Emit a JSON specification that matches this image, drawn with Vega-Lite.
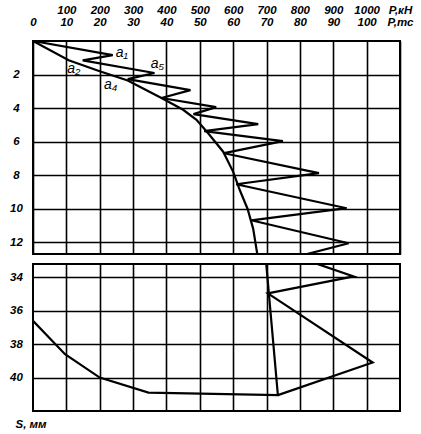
{
  "$schema": "https://vega.github.io/schema/vega-lite/v6.json",
  "background": "white",
  "padding": {"left": 8, "top": 3, "right": 5, "bottom": 3},
  "spacing": 10,
  "bounds": "flush",
  "config": {
    "view": {"stroke": "black", "strokeWidth": 2},
    "axis": {
      "labelFont": "Liberation Sans",
      "labelFontSize": 11.5,
      "labelFontWeight": "bold",
      "labelFontStyle": "italic",
      "labelColor": "black",
      "ticks": false,
      "tickSize": 0,
      "domain": false,
      "gridColor": "black",
      "gridWidth": 1.6,
      "gridOpacity": 1,
      "labelFlush": false,
      "labelOverlap": false,
      "labelBound": false
    }
  },
  "datasets": {
    "lines": [
      {"panel": "top", "series": "zig", "i": 0, "P": 0, "S": 0},
      {"panel": "top", "series": "zig", "i": 1, "P": 23.9, "S": 0.84},
      {"panel": "top", "series": "zig", "i": 2, "P": 14.9, "S": 1.16},
      {"panel": "top", "series": "zig", "i": 3, "P": 36.4, "S": 1.91},
      {"panel": "top", "series": "zig", "i": 4, "P": 28.4, "S": 2.27},
      {"panel": "top", "series": "zig", "i": 5, "P": 47.2, "S": 2.93},
      {"panel": "top", "series": "zig", "i": 6, "P": 38.5, "S": 3.4},
      {"panel": "top", "series": "zig", "i": 7, "P": 54.9, "S": 3.94},
      {"panel": "top", "series": "zig", "i": 8, "P": 48.1, "S": 4.36},
      {"panel": "top", "series": "zig", "i": 9, "P": 67.5, "S": 4.96},
      {"panel": "top", "series": "zig", "i": 10, "P": 51.3, "S": 5.37},
      {"panel": "top", "series": "zig", "i": 11, "P": 74.9, "S": 5.97},
      {"panel": "top", "series": "zig", "i": 12, "P": 57.3, "S": 6.69},
      {"panel": "top", "series": "zig", "i": 13, "P": 85.7, "S": 7.88},
      {"panel": "top", "series": "zig", "i": 14, "P": 60.9, "S": 8.54},
      {"panel": "top", "series": "zig", "i": 15, "P": 94.0, "S": 9.97},
      {"panel": "top", "series": "zig", "i": 16, "P": 65.4, "S": 10.69},
      {"panel": "top", "series": "zig", "i": 17, "P": 94.6, "S": 12.06},
      {"panel": "top", "series": "zig", "i": 18, "P": 76.4, "S": 13.0},
      {"panel": "top", "series": "env", "i": 0, "P": 0, "S": 0},
      {"panel": "top", "series": "env", "i": 1, "P": 10.7, "S": 1.15},
      {"panel": "top", "series": "env", "i": 2, "P": 20, "S": 1.8},
      {"panel": "top", "series": "env", "i": 3, "P": 28.4, "S": 2.35},
      {"panel": "top", "series": "env", "i": 4, "P": 38.5, "S": 3.4},
      {"panel": "top", "series": "env", "i": 5, "P": 45, "S": 4.1},
      {"panel": "top", "series": "env", "i": 6, "P": 49, "S": 4.7},
      {"panel": "top", "series": "env", "i": 7, "P": 52.5, "S": 5.5},
      {"panel": "top", "series": "env", "i": 8, "P": 57, "S": 6.6},
      {"panel": "top", "series": "env", "i": 9, "P": 60, "S": 7.8},
      {"panel": "top", "series": "env", "i": 10, "P": 62, "S": 8.9},
      {"panel": "top", "series": "env", "i": 11, "P": 64.3, "S": 10.0},
      {"panel": "top", "series": "env", "i": 12, "P": 66, "S": 11.2},
      {"panel": "top", "series": "env", "i": 13, "P": 67.3, "S": 12.8},
      {"panel": "bottom", "series": "zig", "i": 0, "P": 75, "S": 32.5},
      {"panel": "bottom", "series": "zig", "i": 1, "P": 96.1, "S": 33.94},
      {"panel": "bottom", "series": "zig", "i": 2, "P": 70.4, "S": 34.96},
      {"panel": "bottom", "series": "zig", "i": 3, "P": 101.8, "S": 39.1},
      {"panel": "bottom", "series": "zig", "i": 4, "P": 73.4, "S": 41.05},
      {"panel": "bottom", "series": "env", "i": 0, "P": 69.6, "S": 32.5},
      {"panel": "bottom", "series": "env", "i": 1, "P": 73.4, "S": 41.05},
      {"panel": "bottom", "series": "env", "i": 2, "P": 34.6, "S": 40.9},
      {"panel": "bottom", "series": "env", "i": 3, "P": 20, "S": 40.0},
      {"panel": "bottom", "series": "env", "i": 4, "P": 9.6, "S": 38.6},
      {"panel": "bottom", "series": "env", "i": 5, "P": 0, "S": 36.6}
    ],
    "labels": [
      {"t": "a₁", "P": 26.6, "S": 0.72},
      {"t": "a₂", "P": 12.2, "S": 1.67},
      {"t": "a₅", "P": 37.3, "S": 1.37},
      {"t": "a₄", "P": 23.3, "S": 2.63}
    ]
  },
  "vconcat": [
    {
      "width": 367,
      "height": 213,
      "layer": [
        {
          "data": {"name": "lines"},
          "transform": [{"filter": "datum.panel == 'top'"}],
          "mark": {"type": "line", "color": "black", "strokeWidth": 2.2, "clip": true},
          "encoding": {
            "x": {
              "field": "P", "type": "quantitative",
              "scale": {"domain": [0, 110], "nice": false},
              "axis": {
                "orient": "top", "title": null, "grid": true,
                "values": [0, 10, 20, 30, 40, 50, 60, 70, 80, 90, 100, 110],
                "labelExpr": "datum.value == 110 ? 'P,тс' : datum.label",
                "labelPadding": 14
              }
            },
            "y": {
              "field": "S", "type": "quantitative",
              "scale": {"domain": [0, 12.7], "reverse": true, "nice": false},
              "axis": {
                "title": null, "grid": true,
                "values": [2, 4, 6, 8, 10, 12],
                "labelAlign": "center", "labelPadding": 17
              }
            },
            "detail": {"field": "series"},
            "order": {"field": "i"}
          }
        },
        {
          "data": {"name": "labels"},
          "mark": {"type": "text", "font": "Liberation Sans", "fontStyle": "italic", "fontSize": 14, "color": "black"},
          "encoding": {
            "x": {
              "field": "P", "type": "quantitative",
              "scale": {"domain": [0, 110], "nice": false},
              "axis": {
                "orient": "top", "title": null, "grid": false, "offset": 12,
                "values": [10, 20, 30, 40, 50, 60, 70, 80, 90, 100, 110],
                "labelExpr": "datum.value == 110 ? 'P,кН' : format(datum.value * 10, 'd')",
                "labelPadding": 14
              }
            },
            "y": {
              "field": "S", "type": "quantitative",
              "scale": {"domain": [0, 12.7], "reverse": true, "nice": false}
            },
            "text": {"field": "t"}
          }
        }
      ],
      "resolve": {"axis": {"x": "independent"}}
    },
    {
      "width": 367,
      "height": 147,
      "data": {"name": "lines"},
      "transform": [{"filter": "datum.panel == 'bottom'"}],
      "mark": {"type": "line", "color": "black", "strokeWidth": 2.2, "clip": true},
      "encoding": {
        "x": {
          "field": "P", "type": "quantitative",
          "scale": {"domain": [0, 110], "nice": false},
          "axis": {
            "orient": "top", "title": null, "grid": true, "labels": false,
            "values": [10, 20, 30, 40, 50, 60, 70, 80, 90, 100]
          }
        },
        "y": {
          "field": "S", "type": "quantitative",
          "scale": {"domain": [33.2, 42], "reverse": true, "nice": false},
          "axis": {
            "grid": true,
            "values": [34, 36, 38, 40],
            "labelAlign": "center", "labelPadding": 17,
            "title": "S, мм", "titleAngle": 0, "titleAlign": "left", "titleBaseline": "middle",
            "titleX": -18, "titleY": 160,
            "titleFont": "Liberation Sans", "titleFontSize": 11.5, "titleFontWeight": "bold", "titleFontStyle": "italic", "titleColor": "black"
          }
        },
        "detail": {"field": "series"},
        "order": {"field": "i"}
      }
    }
  ]
}
